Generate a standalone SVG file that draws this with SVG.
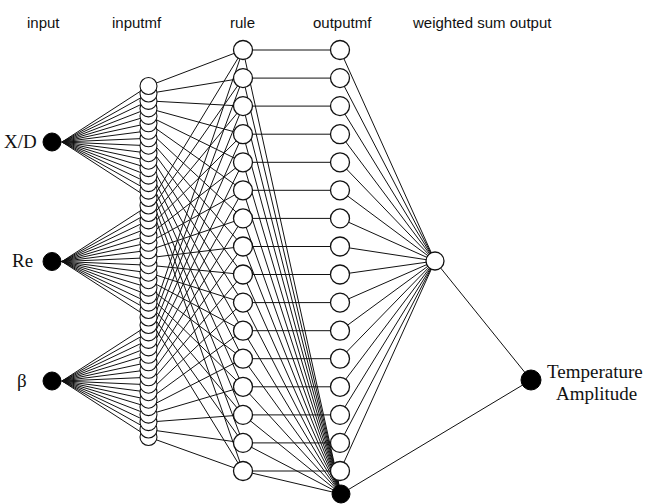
<svg xmlns="http://www.w3.org/2000/svg" width="648" height="504" viewBox="0 0 648 504">
<style>
.hdr{font-family:"Liberation Sans",Arial,sans-serif;font-size:15px;fill:#111}
.lbl{font-family:"Liberation Serif","Times New Roman",serif;font-size:19px;fill:#111}
.cn{fill:none;stroke:#111;stroke-width:1}
.wn{fill:#fff;stroke:#111;stroke-width:1.3}
.mf{fill:#fff;stroke:#111;stroke-width:1.1}
.bn{fill:#000;stroke:#000;stroke-width:1}
</style>
<rect width="648" height="504" fill="#fff"/>
<g id="headers">
<text class="hdr" x="27" y="28">input</text>
<text class="hdr" x="112" y="28">inputmf</text>
<text class="hdr" x="230" y="28">rule</text>
<text class="hdr" x="313" y="28">outputmf</text>
<text class="hdr" x="413" y="28">weighted sum output</text>
</g>
<g id="connectors" class="cn">
<path id="fan-xd" d="M62 142L148.5 86M62 142L148.5 93.5M62 142L148.5 100.9M62 142L148.5 108.4M62 142L148.5 115.9M62 142L148.5 123.3M62 142L148.5 130.8M62 142L148.5 138.3M62 142L148.5 145.7M62 142L148.5 153.2M62 142L148.5 160.7M62 142L148.5 168.1M62 142L148.5 175.6M62 142L148.5 183.1M62 142L148.5 190.6M62 142L148.5 198M52 142H62"/>
<path id="fan-re" d="M62 261.5L148.5 205.5M62 261.5L148.5 213M62 261.5L148.5 220.4M62 261.5L148.5 227.9M62 261.5L148.5 235.4M62 261.5L148.5 242.8M62 261.5L148.5 250.3M62 261.5L148.5 257.8M62 261.5L148.5 265.2M62 261.5L148.5 272.7M62 261.5L148.5 280.2M62 261.5L148.5 287.6M62 261.5L148.5 295.1M62 261.5L148.5 302.6M62 261.5L148.5 310M62 261.5L148.5 317.5M52 261.5H62"/>
<path id="fan-beta" d="M62 381L148.5 325M62 381L148.5 332.4M62 381L148.5 339.9M62 381L148.5 347.4M62 381L148.5 354.8M62 381L148.5 362.3M62 381L148.5 369.8M62 381L148.5 377.3M62 381L148.5 384.7M62 381L148.5 392.2M62 381L148.5 399.7M62 381L148.5 407.1M62 381L148.5 414.6M62 381L148.5 422.1M62 381L148.5 429.5M62 381L148.5 437M52 381H62"/>
<path id="mf1-rule" d="M148.5 86L243 50M148.5 93.5L243 78.1M148.5 100.9L243 106.1M148.5 108.4L243 134.2M148.5 115.9L243 162.3M148.5 123.3L243 190.3M148.5 130.8L243 218.4M148.5 138.3L243 246.5M148.5 145.7L243 274.5M148.5 153.2L243 302.6M148.5 160.7L243 330.7M148.5 168.1L243 358.7M148.5 175.6L243 386.8M148.5 183.1L243 414.9M148.5 190.6L243 442.9M148.5 198L243 471"/>
<path id="mf2-rule" d="M148.5 205.5L243 50M148.5 213L243 78.1M148.5 220.4L243 106.1M148.5 227.9L243 134.2M148.5 235.4L243 162.3M148.5 242.8L243 190.3M148.5 250.3L243 218.4M148.5 257.8L243 246.5M148.5 265.2L243 274.5M148.5 272.7L243 302.6M148.5 280.2L243 330.7M148.5 287.6L243 358.7M148.5 295.1L243 386.8M148.5 302.6L243 414.9M148.5 310L243 442.9M148.5 317.5L243 471"/>
<path id="mf3-rule" d="M148.5 325L243 50M148.5 332.4L243 78.1M148.5 339.9L243 106.1M148.5 347.4L243 134.2M148.5 354.8L243 162.3M148.5 362.3L243 190.3M148.5 369.8L243 218.4M148.5 377.3L243 246.5M148.5 384.7L243 274.5M148.5 392.2L243 302.6M148.5 399.7L243 330.7M148.5 407.1L243 358.7M148.5 414.6L243 386.8M148.5 422.1L243 414.9M148.5 429.5L243 442.9M148.5 437L243 471"/>
<path id="rule-outmf" d="M243 50H340M243 78.1H340M243 106.1H340M243 134.2H340M243 162.3H340M243 190.3H340M243 218.4H340M243 246.5H340M243 274.5H340M243 302.6H340M243 330.7H340M243 358.7H340M243 386.8H340M243 414.9H340M243 442.9H340M243 471H340"/>
<path id="rule-sum" d="M243 50L341 494M243 78.1L341 494M243 106.1L341 494M243 134.2L341 494M243 162.3L341 494M243 190.3L341 494M243 218.4L341 494M243 246.5L341 494M243 274.5L341 494M243 302.6L341 494M243 330.7L341 494M243 358.7L341 494M243 386.8L341 494M243 414.9L341 494M243 442.9L341 494M243 471L341 494"/>
<path id="outmf-wsum" d="M340 50L435 261M340 78.1L435 261M340 106.1L435 261M340 134.2L435 261M340 162.3L435 261M340 190.3L435 261M340 218.4L435 261M340 246.5L435 261M340 274.5L435 261M340 302.6L435 261M340 330.7L435 261M340 358.7L435 261M340 386.8L435 261M340 414.9L435 261M340 442.9L435 261M340 471L435 261"/>
<path id="to-output" d="M435 261L531 380M341 494L531 380"/>
</g>
<g id="in-xd"><circle class="bn" cx="52" cy="142" r="9"/><text class="lbl" x="4" y="148">X/D</text></g>
<g id="in-re"><circle class="bn" cx="52" cy="261.5" r="9"/><text class="lbl" x="12" y="267">Re</text></g>
<g id="in-beta"><circle class="bn" cx="52" cy="381" r="9"/><text class="lbl" x="17" y="387">β</text></g>
<g id="inputmf">
<g id="mf48"><circle class="mf" cx="148.5" cy="437" r="8.5"/></g>
<g id="mf47"><circle class="mf" cx="148.5" cy="429.5" r="8.5"/></g>
<g id="mf46"><circle class="mf" cx="148.5" cy="422.1" r="8.5"/></g>
<g id="mf45"><circle class="mf" cx="148.5" cy="414.6" r="8.5"/></g>
<g id="mf44"><circle class="mf" cx="148.5" cy="407.1" r="8.5"/></g>
<g id="mf43"><circle class="mf" cx="148.5" cy="399.7" r="8.5"/></g>
<g id="mf42"><circle class="mf" cx="148.5" cy="392.2" r="8.5"/></g>
<g id="mf41"><circle class="mf" cx="148.5" cy="384.7" r="8.5"/></g>
<g id="mf40"><circle class="mf" cx="148.5" cy="377.3" r="8.5"/></g>
<g id="mf39"><circle class="mf" cx="148.5" cy="369.8" r="8.5"/></g>
<g id="mf38"><circle class="mf" cx="148.5" cy="362.3" r="8.5"/></g>
<g id="mf37"><circle class="mf" cx="148.5" cy="354.8" r="8.5"/></g>
<g id="mf36"><circle class="mf" cx="148.5" cy="347.4" r="8.5"/></g>
<g id="mf35"><circle class="mf" cx="148.5" cy="339.9" r="8.5"/></g>
<g id="mf34"><circle class="mf" cx="148.5" cy="332.4" r="8.5"/></g>
<g id="mf33"><circle class="mf" cx="148.5" cy="325" r="8.5"/></g>
<g id="mf32"><circle class="mf" cx="148.5" cy="317.5" r="8.5"/></g>
<g id="mf31"><circle class="mf" cx="148.5" cy="310" r="8.5"/></g>
<g id="mf30"><circle class="mf" cx="148.5" cy="302.6" r="8.5"/></g>
<g id="mf29"><circle class="mf" cx="148.5" cy="295.1" r="8.5"/></g>
<g id="mf28"><circle class="mf" cx="148.5" cy="287.6" r="8.5"/></g>
<g id="mf27"><circle class="mf" cx="148.5" cy="280.2" r="8.5"/></g>
<g id="mf26"><circle class="mf" cx="148.5" cy="272.7" r="8.5"/></g>
<g id="mf25"><circle class="mf" cx="148.5" cy="265.2" r="8.5"/></g>
<g id="mf24"><circle class="mf" cx="148.5" cy="257.8" r="8.5"/></g>
<g id="mf23"><circle class="mf" cx="148.5" cy="250.3" r="8.5"/></g>
<g id="mf22"><circle class="mf" cx="148.5" cy="242.8" r="8.5"/></g>
<g id="mf21"><circle class="mf" cx="148.5" cy="235.4" r="8.5"/></g>
<g id="mf20"><circle class="mf" cx="148.5" cy="227.9" r="8.5"/></g>
<g id="mf19"><circle class="mf" cx="148.5" cy="220.4" r="8.5"/></g>
<g id="mf18"><circle class="mf" cx="148.5" cy="213" r="8.5"/></g>
<g id="mf17"><circle class="mf" cx="148.5" cy="205.5" r="8.5"/></g>
<g id="mf16"><circle class="mf" cx="148.5" cy="198" r="8.5"/></g>
<g id="mf15"><circle class="mf" cx="148.5" cy="190.6" r="8.5"/></g>
<g id="mf14"><circle class="mf" cx="148.5" cy="183.1" r="8.5"/></g>
<g id="mf13"><circle class="mf" cx="148.5" cy="175.6" r="8.5"/></g>
<g id="mf12"><circle class="mf" cx="148.5" cy="168.1" r="8.5"/></g>
<g id="mf11"><circle class="mf" cx="148.5" cy="160.7" r="8.5"/></g>
<g id="mf10"><circle class="mf" cx="148.5" cy="153.2" r="8.5"/></g>
<g id="mf9"><circle class="mf" cx="148.5" cy="145.7" r="8.5"/></g>
<g id="mf8"><circle class="mf" cx="148.5" cy="138.3" r="8.5"/></g>
<g id="mf7"><circle class="mf" cx="148.5" cy="130.8" r="8.5"/></g>
<g id="mf6"><circle class="mf" cx="148.5" cy="123.3" r="8.5"/></g>
<g id="mf5"><circle class="mf" cx="148.5" cy="115.9" r="8.5"/></g>
<g id="mf4"><circle class="mf" cx="148.5" cy="108.4" r="8.5"/></g>
<g id="mf3"><circle class="mf" cx="148.5" cy="100.9" r="8.5"/></g>
<g id="mf2"><circle class="mf" cx="148.5" cy="93.5" r="8.5"/></g>
<g id="mf1"><circle class="mf" cx="148.5" cy="86" r="8.5"/></g>
</g>
<g id="rules">
<g id="rule1"><circle class="wn" cx="243" cy="50" r="9.5"/></g>
<g id="rule2"><circle class="wn" cx="243" cy="78.1" r="9.5"/></g>
<g id="rule3"><circle class="wn" cx="243" cy="106.1" r="9.5"/></g>
<g id="rule4"><circle class="wn" cx="243" cy="134.2" r="9.5"/></g>
<g id="rule5"><circle class="wn" cx="243" cy="162.3" r="9.5"/></g>
<g id="rule6"><circle class="wn" cx="243" cy="190.3" r="9.5"/></g>
<g id="rule7"><circle class="wn" cx="243" cy="218.4" r="9.5"/></g>
<g id="rule8"><circle class="wn" cx="243" cy="246.5" r="9.5"/></g>
<g id="rule9"><circle class="wn" cx="243" cy="274.5" r="9.5"/></g>
<g id="rule10"><circle class="wn" cx="243" cy="302.6" r="9.5"/></g>
<g id="rule11"><circle class="wn" cx="243" cy="330.7" r="9.5"/></g>
<g id="rule12"><circle class="wn" cx="243" cy="358.7" r="9.5"/></g>
<g id="rule13"><circle class="wn" cx="243" cy="386.8" r="9.5"/></g>
<g id="rule14"><circle class="wn" cx="243" cy="414.9" r="9.5"/></g>
<g id="rule15"><circle class="wn" cx="243" cy="442.9" r="9.5"/></g>
<g id="rule16"><circle class="wn" cx="243" cy="471" r="9.5"/></g>
</g>
<g id="outputmfs">
<g id="omf1"><circle class="wn" cx="340" cy="50" r="9.5"/></g>
<g id="omf2"><circle class="wn" cx="340" cy="78.1" r="9.5"/></g>
<g id="omf3"><circle class="wn" cx="340" cy="106.1" r="9.5"/></g>
<g id="omf4"><circle class="wn" cx="340" cy="134.2" r="9.5"/></g>
<g id="omf5"><circle class="wn" cx="340" cy="162.3" r="9.5"/></g>
<g id="omf6"><circle class="wn" cx="340" cy="190.3" r="9.5"/></g>
<g id="omf7"><circle class="wn" cx="340" cy="218.4" r="9.5"/></g>
<g id="omf8"><circle class="wn" cx="340" cy="246.5" r="9.5"/></g>
<g id="omf9"><circle class="wn" cx="340" cy="274.5" r="9.5"/></g>
<g id="omf10"><circle class="wn" cx="340" cy="302.6" r="9.5"/></g>
<g id="omf11"><circle class="wn" cx="340" cy="330.7" r="9.5"/></g>
<g id="omf12"><circle class="wn" cx="340" cy="358.7" r="9.5"/></g>
<g id="omf13"><circle class="wn" cx="340" cy="386.8" r="9.5"/></g>
<g id="omf14"><circle class="wn" cx="340" cy="414.9" r="9.5"/></g>
<g id="omf15"><circle class="wn" cx="340" cy="442.9" r="9.5"/></g>
<g id="omf16"><circle class="wn" cx="340" cy="471" r="9.5"/></g>
</g>
<g id="sum-node"><circle class="bn" cx="341" cy="494" r="9"/></g>
<g id="wsum-node"><circle class="wn" cx="435" cy="261" r="9"/></g>
<g id="output-node"><circle class="bn" cx="531" cy="380" r="10"/>
<text class="lbl" x="547" y="378">Temperature</text>
<text class="lbl" x="556" y="400">Amplitude</text></g>
</svg>
